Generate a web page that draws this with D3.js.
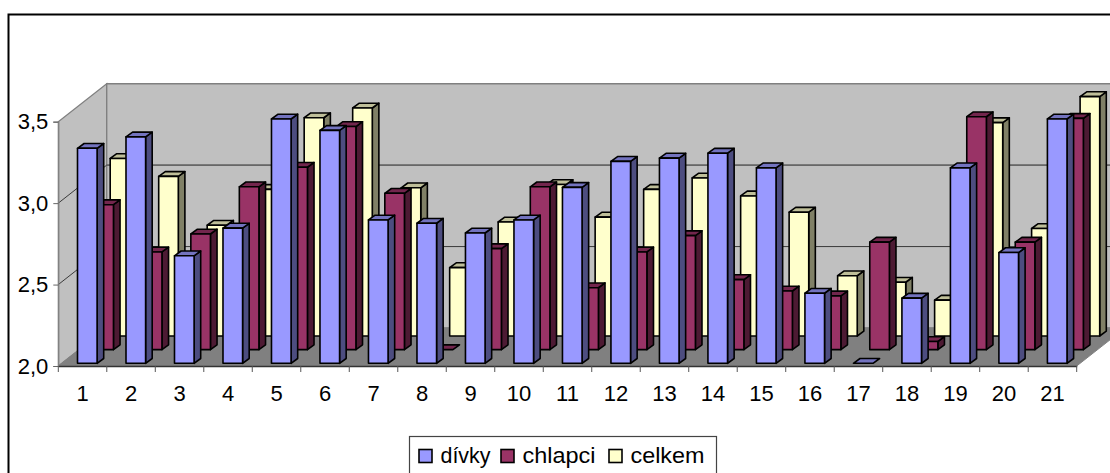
<!DOCTYPE html>
<html>
<head>
<meta charset="utf-8">
<style>
html,body{margin:0;padding:0;background:#fff;overflow:hidden}
svg{display:block}
text{font-family:"Liberation Sans",Arial,sans-serif;fill:#000}
</style>
<script src="https://cdn.jsdelivr.net/npm/d3@7/dist/d3.min.js"></script>
</head>
<body>
<svg id="chart" width="1110" height="473"></svg>
<script>
// Průměrné hodnoty podle položek dotazníku
const categories = d3.range(1, 22).map(String);
const divky = [3.32,3.39,2.66,2.83,3.50,3.43,2.88,2.86,2.80,2.88,3.08,3.24,3.26,3.29,3.20,2.43,2.00,2.40,3.20,2.68,3.50];
const chlapci = [2.89,2.60,2.71,3.00,3.12,3.37,2.96,2.00,2.62,3.00,2.38,2.60,2.70,2.43,2.36,2.33,2.66,2.05,3.43,2.66,3.42];
const celkem = [3.09,2.98,2.68,2.90,3.34,3.40,2.91,2.42,2.70,2.93,2.73,2.90,2.97,2.86,2.76,2.37,2.33,2.22,3.31,2.66,3.47];
const yTicks = [2, 2.5, 3, 3.5];
const seriesNames = ["dívky", "chlapci", "celkem"];

const svg = d3.select("#chart");
const fmt = v => d3.format(".1f")(v).replace(".", ",");

// Scales for the front plane of the 3D box
const x = d3.scaleBand().domain(categories).range([58.3, 1076.7]);
const y = d3.scaleLinear().domain([2, 3.5]).range([366, 121.7]);
const color = d3.scaleOrdinal().domain(seriesNames).range(["#9999ff", "#993366", "#ffffcc"]);

// Oblique projection of the box depth
const depthX = 48.4, depthY = 38;
const rowStepX = 16.35, rowStepY = 13.65;   // shift between series rows
const rowStartY = 2.7;                      // first row sits just behind the front edge
const barOffset = 19.2, barWidth = 19.6;
const sideX = 6.6, sideY = 4.8;             // visible depth of a bar

const floorBack = y(2) - depthY;
const x0 = x.range()[0], x1 = x.range()[1];
const pts = a => a.map(p => p.join(",")).join(" ");

// Chart frame
svg.append("rect").attr("x", 8.5).attr("y", 14.5).attr("width", 1200).attr("height", 600)
  .attr("fill", "#fff").attr("stroke", "#000").attr("stroke-width", 2);

// Walls and floor
svg.append("polygon").attr("points", pts([[x0, y(3.5)], [x0 + depthX, y(3.5) - depthY], [x0 + depthX, floorBack], [x0, y(2)]]))
  .attr("fill", "#c0c0c0").attr("stroke", "#808080").attr("stroke-width", 1.2);
svg.append("polygon").attr("points", pts([[x0 + depthX, y(3.5) - depthY], [x1 + depthX, y(3.5) - depthY], [x1 + depthX, floorBack], [x0 + depthX, floorBack]]))
  .attr("fill", "#c0c0c0").attr("stroke", "#808080").attr("stroke-width", 1.4);
svg.append("polygon").attr("points", pts([[x0, y(2)], [x0 + depthX, floorBack], [x1 + depthX, floorBack], [x1, y(2)]]))
  .attr("fill", "#808080").attr("stroke", "#808080").attr("stroke-width", 1);

// Gridlines across the left and back walls
const grid = svg.append("g").attr("fill", "none");
yTicks.filter(t => t > 2 && t < 3.5).forEach(t => {
  grid.append("polyline")
    .attr("points", pts([[x0, y(t)], [x0 + depthX, y(t) - depthY], [x1 + depthX, y(t) - depthY]]))
    .attr("stroke", "#3a3a3a").attr("stroke-width", 1);
});
svg.append("line").attr("x1", x0 + depthX).attr("x2", x1 + depthX)
  .attr("y1", y(3) - depthY).attr("y2", y(3) - depthY).attr("stroke", "#666").attr("stroke-width", 1.2);

// Bars, drawn row by row from the back of the box to the front
const bars = [
  { name: "celkem", row: 2, values: celkem },
  { name: "chlapci", row: 1, values: chlapci },
  { name: "dívky", row: 0, values: divky }
];
bars.forEach(s => {
  const base = color(s.name);
  const c = d3.rgb(base);
  const sideCol = d3.rgb(c.r * 0.5, c.g * 0.5, c.b * 0.5);
  const topCol = d3.rgb(c.r * 0.75, c.g * 0.75, c.b * 0.75);
  const dx = s.row * rowStepX, dy = rowStartY + s.row * rowStepY;
  const g = svg.append("g").attr("class", "series").attr("stroke", "#000").attr("stroke-width", 1.6).attr("stroke-linejoin", "round");
  const bar = g.selectAll("g").data(s.values.map((v, i) => ({ v, cat: categories[i] }))).join("g");
  const left = d => x(d.cat) + barOffset + dx;
  const top = d => y(d.v) - dy;
  const bottom = () => y(2) - dy;
  bar.filter(d => d.v > 2).append("polygon")
    .attr("points", d => pts([[left(d) + barWidth, top(d)], [left(d) + barWidth + sideX, top(d) - sideY], [left(d) + barWidth + sideX, bottom() - sideY], [left(d) + barWidth, bottom()]]))
    .attr("fill", sideCol);
  bar.append("polygon")
    .attr("points", d => pts([[left(d), top(d)], [left(d) + sideX, top(d) - sideY], [left(d) + barWidth + sideX, top(d) - sideY], [left(d) + barWidth, top(d)]]))
    .attr("fill", topCol);
  bar.filter(d => d.v > 2).append("rect")
    .attr("x", left).attr("y", top).attr("width", barWidth).attr("height", d => bottom() - top(d))
    .attr("fill", base);
});

// Value axis on the front left edge of the box
const yAxis = d3.axisLeft(y).tickValues(yTicks).tickFormat(fmt).tickSize(5).tickPadding(5);
const yg = svg.append("g").attr("transform", `translate(${x0},0)`).call(yAxis);
yg.select(".domain").attr("stroke", "#808080").attr("stroke-width", 1.2);
yg.selectAll(".tick line").attr("stroke", "#666");
yg.selectAll("text").attr("font-size", 22).attr("font-family", '"Liberation Sans"');

// Category axis: labels centred in each band, ticks on the band edges
const xAxis = d3.axisBottom(x).tickSize(0).tickPadding(19);
const xg = svg.append("g").attr("transform", `translate(0,${y(2)})`).call(xAxis);
xg.select(".domain").attr("stroke", "#333").attr("stroke-width", 1.6);
xg.selectAll("text").attr("font-size", 22).attr("font-family", '"Liberation Sans"');
svg.append("g").selectAll("line").data(categories.concat("end")).join("line")
  .attr("x1", (d, i) => x0 + i * x.step()).attr("x2", (d, i) => x0 + i * x.step())
  .attr("y1", y(2)).attr("y2", y(2) + 6)
  .attr("stroke", "#555").attr("stroke-width", 1);

// Legend
const legend = svg.append("g");
legend.append("rect").attr("x", 409.5).attr("y", 436.5).attr("width", 307).attr("height", 60)
  .attr("fill", "#fff").attr("stroke", "#444").attr("stroke-width", 1.2);
const legendSwatch = d3.scaleOrdinal().domain(seriesNames).range([419, 501, 609]);
const legendTextWidth = d3.scaleOrdinal().domain(seriesNames).range([50, 73, 74]);
seriesNames.forEach(n => {
  const sx = legendSwatch(n);
  legend.append("rect").attr("x", sx).attr("y", 449.5).attr("width", 13).attr("height", 13)
    .attr("fill", color(n)).attr("stroke", "#000").attr("stroke-width", 1.6);
  legend.append("text").attr("x", sx + 21.5).attr("y", 463).attr("font-size", 22.5)
    .attr("textLength", legendTextWidth(n)).attr("lengthAdjust", "spacingAndGlyphs").text(n);
});
</script>
</body>
</html>
